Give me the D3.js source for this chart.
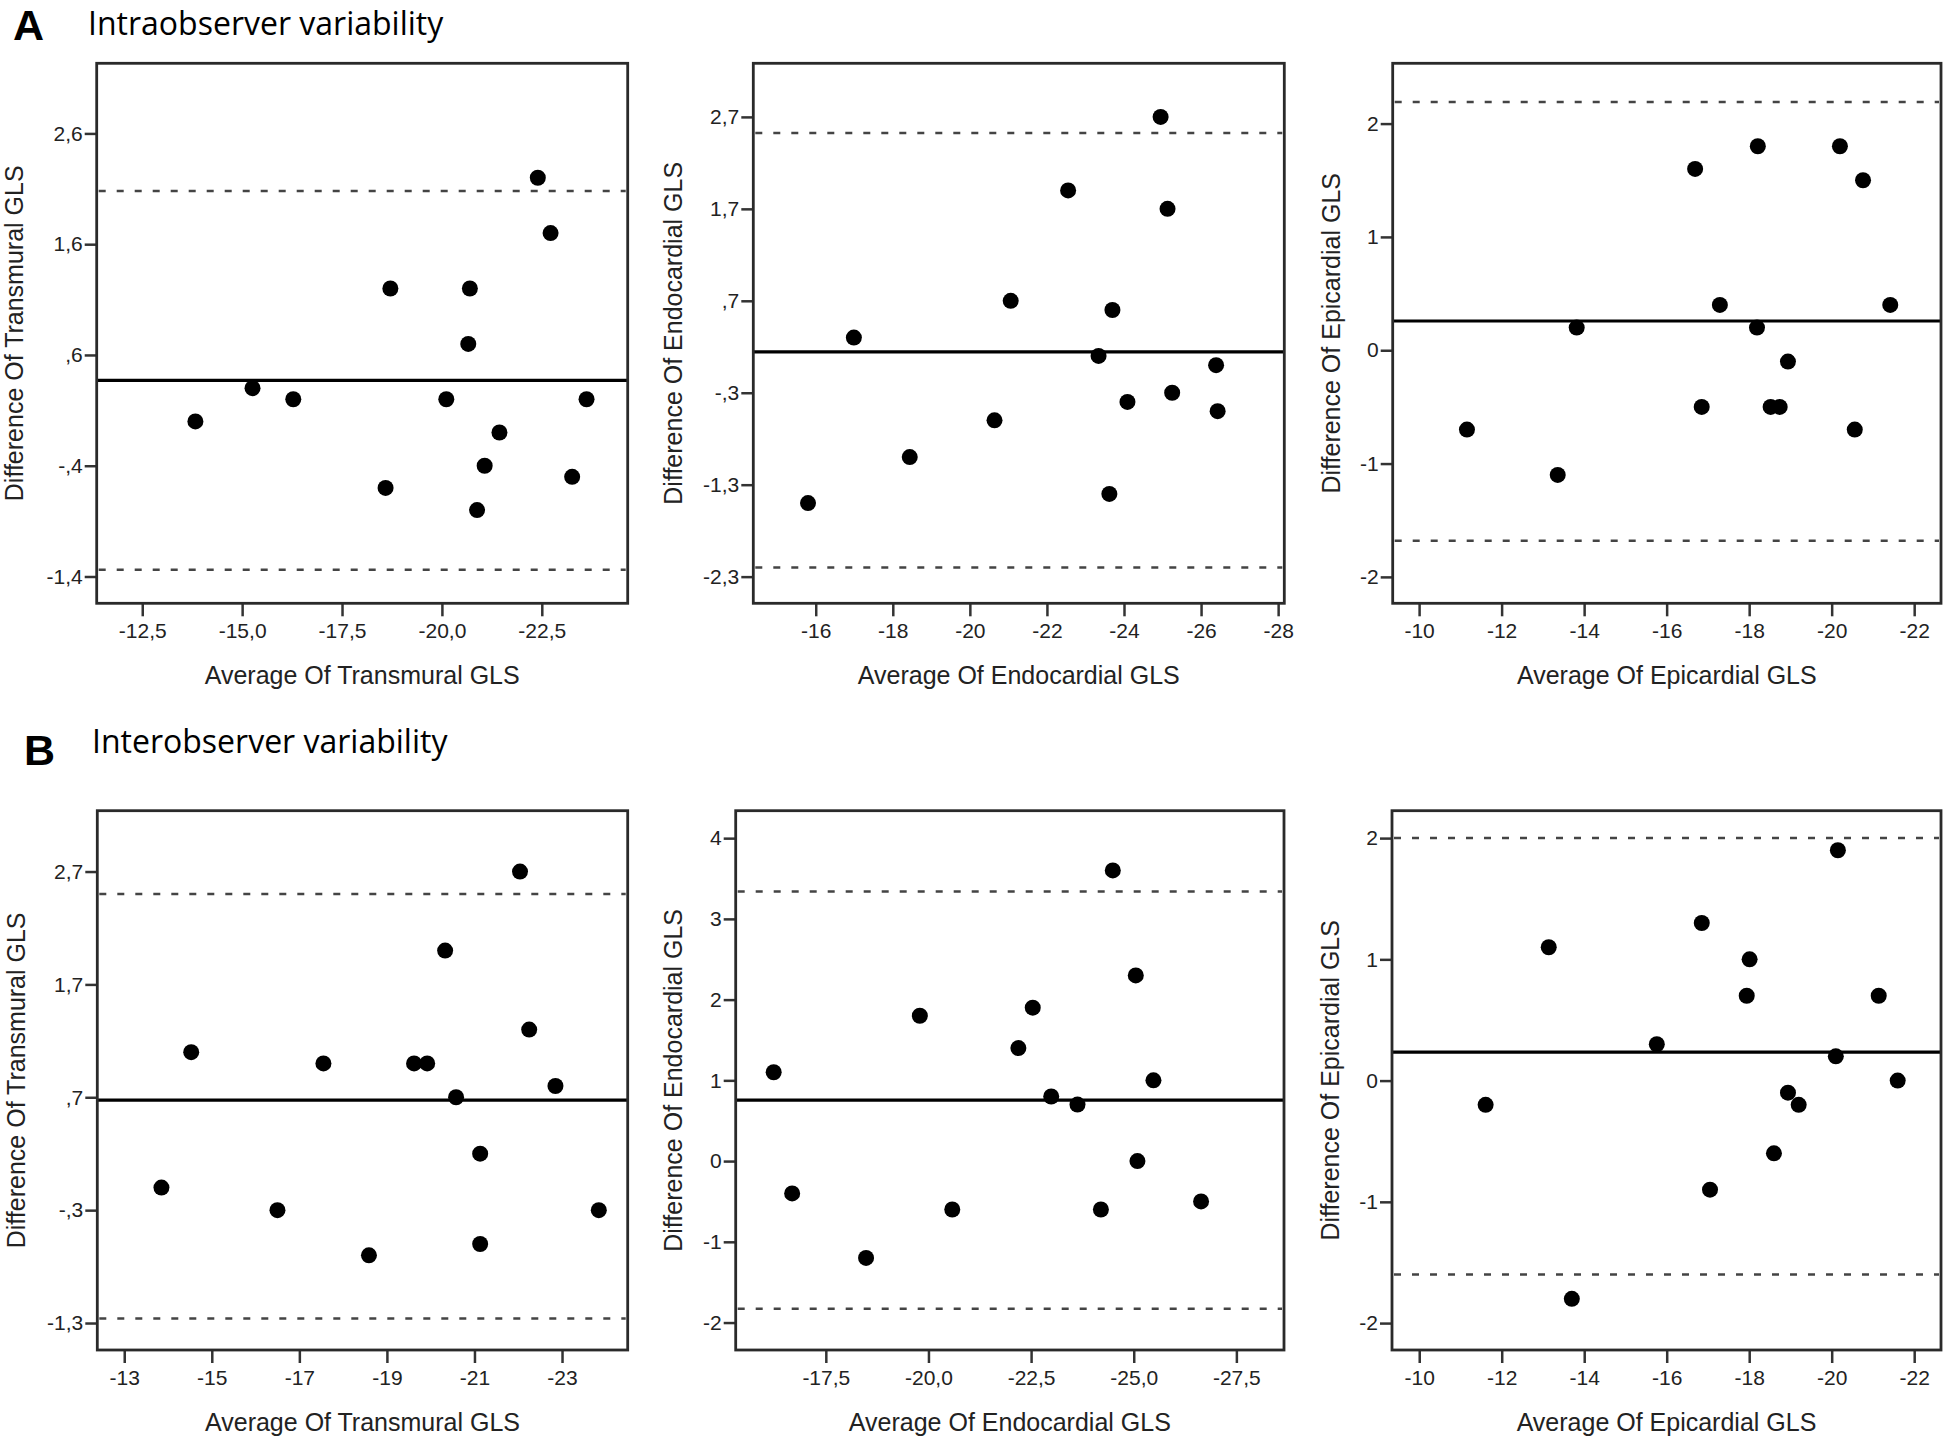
<!DOCTYPE html>
<html>
<head>
<meta charset="utf-8">
<script src="https://cdn.jsdelivr.net/npm/d3@7/dist/d3.min.js"></script>
<style>
  html, body { margin: 0; padding: 0; background: #fff; }
  svg { display: block; }
</style>
</head>
<body>
<script>
// ---------------- DATA ----------------
// A: Intraobserver variability
const a1Avg  = [-22.40, -22.72, -18.71, -20.70, -20.66, -15.26, -16.28, -13.83, -20.11, -23.62, -21.44, -21.07, -23.26, -18.59, -20.88];
const a1Diff = [2.2, 1.7, 1.2, 1.2, 0.7, 0.3, 0.2, 0.0, 0.2, 0.2, -0.1, -0.4, -0.5, -0.6, -0.8];
const a1Lines = [0.37, 2.08, -1.34];   // mean, upper LoA, lower LoA
const a1YTicks = [2.6, 1.6, 0.6, -0.4, -1.4];
const a1YLabels = ["2,6", "1,6", ",6", "-,4", "-1,4"];
const a1XTicks = [-12.5, -15, -17.5, -20, -22.5];
const a1XLabels = ["-12,5", "-15,0", "-17,5", "-20,0", "-22,5"];

const a2Avg  = [-24.95, -22.55, -25.13, -21.06, -23.70, -16.99, -23.34, -26.39, -25.25, -24.09, -26.43, -20.64, -18.44, -23.62, -15.80];
const a2Diff = [2.7, 1.9, 1.7, 0.7, 0.6, 0.3, 0.1, 0.0, -0.3, -0.4, -0.5, -0.6, -1.0, -1.4, -1.5];
const a2Lines = [0.144, 2.525, -2.20];
const a2YTicks = [2.7, 1.7, 0.7, -0.3, -1.3, -2.3];
const a2YLabels = ["2,7", "1,7", ",7", "-,3", "-1,3", "-2,3"];
const a2XTicks = [-16, -18, -20, -22, -24, -26, -28];
const a2XLabels = ["-16", "-18", "-20", "-22", "-24", "-26", "-28"];

const a3Avg  = [-16.69, -18.21, -20.20, -20.76, -17.29, -21.42, -13.82, -18.19, -18.94, -16.85, -18.52, -18.74, -11.16, -20.56, -13.36];
const a3Diff = [1.6, 1.8, 1.8, 1.5, 0.4, 0.4, 0.2, 0.2, -0.1, -0.5, -0.5, -0.5, -0.7, -0.7, -1.1];
const a3Lines = [0.258, 2.19, -1.68];
const a3YTicks = [2, 1, 0, -1, -2];
const a3YLabels = ["2", "1", "0", "-1", "-2"];
const a3XTicks = [-10, -12, -14, -16, -18, -20, -22];
const a3XLabels = ["-10", "-12", "-14", "-16", "-18", "-20", "-22"];

// B: Interobserver variability
const b1Avg  = [-22.04, -20.33, -22.25, -14.53, -17.55, -19.62, -19.92, -22.85, -20.58, -21.13, -13.85, -16.50, -23.84, -21.13, -18.59];
const b1Diff = [2.7, 2.0, 1.3, 1.1, 1.0, 1.0, 1.0, 0.8, 0.7, 0.2, -0.1, -0.3, -0.3, -0.6, -0.7];
const b1Lines = [0.675, 2.50, -1.26];
const b1YTicks = [2.7, 1.7, 0.7, -0.3, -1.3];
const b1YLabels = ["2,7", "1,7", ",7", "-,3", "-1,3"];
const b1XTicks = [-13, -15, -17, -19, -21, -23];
const b1XLabels = ["-13", "-15", "-17", "-19", "-21", "-23"];

const b2Avg  = [-24.49, -25.05, -22.54, -19.79, -22.19, -16.23, -25.48, -22.99, -23.63, -25.09, -16.68, -26.64, -20.58, -24.20, -18.48];
const b2Diff = [3.6, 2.3, 1.9, 1.8, 1.4, 1.1, 1.0, 0.8, 0.7, 0.0, -0.4, -0.5, -0.6, -0.6, -1.2];
const b2Lines = [0.755, 3.34, -1.83];
const b2YTicks = [4, 3, 2, 1, 0, -1, -2];
const b2YLabels = ["4", "3", "2", "1", "0", "-1", "-2"];
const b2XTicks = [-17.5, -20, -22.5, -25, -27.5];
const b2XLabels = ["-17,5", "-20,0", "-22,5", "-25,0", "-27,5"];

const b3Avg  = [-20.15, -16.85, -13.14, -18.01, -17.94, -21.14, -15.76, -20.10, -21.60, -11.61, -18.94, -19.20, -18.60, -17.05, -13.70];
const b3Diff = [1.9, 1.3, 1.1, 1.0, 0.7, 0.7, 0.3, 0.2, 0.0, -0.2, -0.1, -0.2, -0.6, -0.9, -1.8];
const b3Lines = [0.234, 2.0, -1.6];
const b3YTicks = [2, 1, 0, -1, -2];
const b3YLabels = ["2", "1", "0", "-1", "-2"];
const b3XTicks = [-10, -12, -14, -16, -18, -20, -22];
const b3XLabels = ["-10", "-12", "-14", "-16", "-18", "-20", "-22"];

const sectionLetters = ["A", "B"];
const sectionTitles = ["Intraobserver variability", "Interobserver variability"];
const xTitles = ["Average Of Transmural GLS", "Average Of Endocardial GLS", "Average Of Epicardial GLS"];
const yTitles = ["Difference Of Transmural GLS", "Difference Of Endocardial GLS", "Difference Of Epicardial GLS"];

// axis domains (value range covered by each frame)
const a1XDom = [-11.36, -24.65], a1YDom = [-1.642, 3.233];
const a2XDom = [-14.38, -28.16], a2YDom = [-2.59, 3.283];
const a3XDom = [-9.36, -22.65],  a3YDom = [-2.233, 2.532];
const b1XDom = [-12.385, -24.50], b1YDom = [-1.539, 3.239];
const b2XDom = [-15.305, -28.66], b2YDom = [-2.34, 4.34];
const b3XDom = [-9.34, -22.65],  b3YDom = [-2.222, 2.226];

// ---------------- LAYOUT ----------------
const W = 1946, H = 1442;
const rowTop = [63.3, 810.7], rowBottom = [603.3, 1350];
const colLeft = [[96.7, 753.3, 1392.7], [97.3, 735.7, 1392]];
const colRight = [[627.7, 1284.3, 1941], [627.7, 1284, 1941]];
const yTitleOffset = [[74, 71, 53], [72.7, 54, 53]];

const panels = [
  {r:0,c:0,avg:a1Avg,diff:a1Diff,lines:a1Lines,yt:a1YTicks,yl:a1YLabels,xt:a1XTicks,xl:a1XLabels,xd:a1XDom,yd:a1YDom},
  {r:0,c:1,avg:a2Avg,diff:a2Diff,lines:a2Lines,yt:a2YTicks,yl:a2YLabels,xt:a2XTicks,xl:a2XLabels,xd:a2XDom,yd:a2YDom},
  {r:0,c:2,avg:a3Avg,diff:a3Diff,lines:a3Lines,yt:a3YTicks,yl:a3YLabels,xt:a3XTicks,xl:a3XLabels,xd:a3XDom,yd:a3YDom},
  {r:1,c:0,avg:b1Avg,diff:b1Diff,lines:b1Lines,yt:b1YTicks,yl:b1YLabels,xt:b1XTicks,xl:b1XLabels,xd:b1XDom,yd:b1YDom},
  {r:1,c:1,avg:b2Avg,diff:b2Diff,lines:b2Lines,yt:b2YTicks,yl:b2YLabels,xt:b2XTicks,xl:b2XLabels,xd:b2XDom,yd:b2YDom},
  {r:1,c:2,avg:b3Avg,diff:b3Diff,lines:b3Lines,yt:b3YTicks,yl:b3YLabels,xt:b3XTicks,xl:b3XLabels,xd:b3XDom,yd:b3YDom}
];

const svg = d3.select("body").append("svg").attr("width", W).attr("height", H);

const txtCol = "#222";
const axisFont = "'Liberation Sans', Arial, sans-serif";

// section headings
const letterX = [13, 24], letterY = [40, 765];
const headX = [88, 92], headY = [34.5, 753];
sectionLetters.forEach((L, i) => {
  svg.append("text").attr("x", letterX[i]).attr("y", letterY[i])
    .attr("font-family", axisFont).attr("font-weight", "bold").attr("font-size", 43)
    .attr("fill", "#000").text(L);
  svg.append("text").attr("x", headX[i]).attr("y", headY[i])
    .attr("font-family", "'Open Sans', sans-serif").attr("font-size", 32)
    .attr("fill", "#000").text(sectionTitles[i]);
});

panels.forEach(p => {
  const x0 = colLeft[p.r][p.c], x1 = colRight[p.r][p.c];
  const y0 = rowTop[p.r], y1 = rowBottom[p.r];
  const x = d3.scaleLinear().domain(p.xd).range([x0, x1]);
  const y = d3.scaleLinear().domain(p.yd).range([y1, y0]);
  const g = svg.append("g");

  // reference lines
  const [mean, up, lo] = p.lines;
  [up, lo].forEach(v => {
    g.append("line").attr("x1", x0 + 2).attr("x2", x1 - 2)
      .attr("y1", y(v)).attr("y2", y(v))
      .attr("stroke", "#444").attr("stroke-width", 2.5)
      .attr("stroke-dasharray", "7,11");
  });
  g.append("line").attr("x1", x0).attr("x2", x1)
    .attr("y1", y(mean)).attr("y2", y(mean))
    .attr("stroke", "#000").attr("stroke-width", 3.2);

  // points
  g.selectAll("circle.pt").data(p.avg.map((a, i) => [a, p.diff[i]]))
    .enter().append("circle").attr("class", "pt")
    .attr("cx", d => x(d[0])).attr("cy", d => y(d[1]))
    .attr("r", 8).attr("fill", "#000");

  // axes
  const ya = g.append("g").attr("transform", `translate(${x0},0)`)
    .call(d3.axisLeft(y).tickValues(p.yt).tickFormat((d, i) => p.yl[i]).tickSize(12).tickPadding(2));
  const xa = g.append("g").attr("transform", `translate(0,${y1})`)
    .call(d3.axisBottom(x).tickValues(p.xt).tickFormat((d, i) => p.xl[i]).tickSize(13).tickPadding(7));
  [ya, xa].forEach(a => {
    a.select(".domain").remove();
    a.selectAll(".tick line").attr("stroke", "#333").attr("stroke-width", 2.5);
    a.selectAll(".tick text").attr("font-family", axisFont).attr("font-size", 21).attr("fill", txtCol);
  });

  // frame
  g.append("rect").attr("x", x0).attr("y", y0).attr("width", x1 - x0).attr("height", y1 - y0)
    .attr("fill", "none").attr("stroke", "#2a2a2a").attr("stroke-width", 2.8);

  // axis titles
  g.append("text").attr("x", (x0 + x1) / 2).attr("y", y1 + 81)
    .attr("text-anchor", "middle").attr("font-family", axisFont).attr("font-size", 25)
    .attr("fill", txtCol).text(xTitles[p.c]);
  const tx = x0 - yTitleOffset[p.r][p.c], ty = (y0 + y1) / 2;
  g.append("text").attr("transform", `translate(${tx},${ty}) rotate(-90)`)
    .attr("text-anchor", "middle").attr("font-family", axisFont).attr("font-size", 25)
    .attr("fill", txtCol).text(yTitles[p.c]);
});
</script>
</body>
</html>
